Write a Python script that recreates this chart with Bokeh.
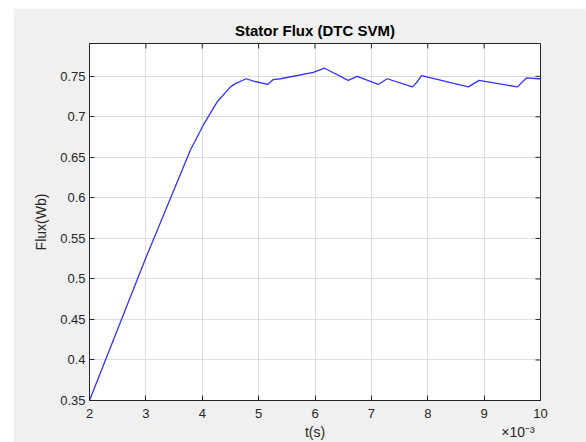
import math
from bokeh.plotting import figure
from bokeh.layouts import column, row
from bokeh.models import Range1d, FixedTicker, LinearAxis, Spacer
from bokeh.embed import file_html
from bokeh.resources import INLINE

# data (t in units of 1e-3 s)
t_ms = [2.0, 3.0, 3.79, 4.02, 4.27, 4.50, 4.59, 4.78, 4.91, 5.16, 5.26, 5.39,
        5.97, 6.17, 6.59, 6.75, 7.12, 7.28, 7.73, 7.80, 7.89, 8.72, 8.91,
        9.59, 9.75, 9.96, 10.0]
flux = [0.350, 0.526, 0.659, 0.690, 0.719, 0.737, 0.741, 0.747, 0.744, 0.740,
        0.746, 0.747, 0.755, 0.760, 0.745, 0.750, 0.740, 0.747, 0.737, 0.742,
        0.751, 0.737, 0.745, 0.737, 0.748, 0.747, 0.747]
x_ticks = [2, 3, 4, 5, 6, 7, 8, 9, 10]
y_ticks = [0.35, 0.4, 0.45, 0.5, 0.55, 0.6, 0.65, 0.7, 0.75]
x_label = "t(s)"
x_exponent = "\u00d710\u207b\u00b3"

FONT = "Liberation Sans"
DARK = "#262626"
BG = "#f0f0f0"
X0, X1 = 2, 10
Y0, Y1 = 0.35, 0.7905

p = figure(width=573, height=434, output_backend="svg", toolbar_location=None,
           x_range=Range1d(X0, X1), y_range=Range1d(Y0, Y1),
           min_border_left=76, min_border_right=46, min_border_top=35,
           min_border_bottom=42)
p.background_fill_color = "white"
p.border_fill_color = BG
p.outline_line_color = DARK
p.outline_line_width = 1

p.title.text = "Stator Flux (DTC SVM)"
p.title.text_font = FONT
p.title.text_font_size = "15px"
p.title.text_font_style = "bold"
p.title.text_color = "black"
p.title.align = "center"

p.xgrid.ticker = FixedTicker(ticks=x_ticks)
p.ygrid.ticker = FixedTicker(ticks=y_ticks)
p.grid.grid_line_color = "#dedede"
p.grid.grid_line_width = 1

p.line(t_ms, flux, line_color="#0000ff", line_width=1.3, line_alpha=0.8)

for ax in (p.xaxis[0], p.yaxis[0]):
    ax.major_tick_in = 5
    ax.major_tick_out = 0
    ax.minor_tick_in = 0
    ax.minor_tick_out = 0
    ax.axis_line_color = DARK
    ax.major_tick_line_color = DARK
    ax.major_label_text_font = FONT
    ax.major_label_text_font_size = "13px"
    ax.major_label_text_color = DARK
    ax.axis_label_text_font = FONT
    ax.axis_label_text_font_size = "14px"
    ax.axis_label_text_font_style = "normal"
    ax.axis_label_text_color = DARK

p.xaxis[0].ticker = FixedTicker(ticks=x_ticks)
p.yaxis[0].ticker = FixedTicker(ticks=y_ticks)
p.yaxis[0].axis_label = "Flux(Wb)"
p.xaxis[0].major_label_standoff = 8
p.yaxis[0].major_label_standoff = 4
p.yaxis[0].axis_label_standoff = 8

# second row below the x axis: axis label and the exponent
lab_ticks = [(X0 + X1) / 2, 9.6]
lab_axis = LinearAxis(ticker=FixedTicker(ticks=lab_ticks),
                      major_label_overrides={lab_ticks[0]: x_label,
                                             lab_ticks[1]: x_exponent})
lab_axis.axis_line_color = None
lab_axis.major_tick_line_color = None
lab_axis.minor_tick_line_color = None
lab_axis.major_tick_in = 0
lab_axis.major_tick_out = 0
lab_axis.minor_tick_in = 0
lab_axis.minor_tick_out = 0
lab_axis.major_label_standoff = 3
lab_axis.major_label_text_font = FONT
lab_axis.major_label_text_font_size = "14px"
lab_axis.major_label_text_color = DARK
p.add_layout(lab_axis, "below")

# inward tick marks on the top and right edges (half of each dash is clipped)
p.scatter(x_ticks, [Y1] * len(x_ticks), marker="dash", size=10,
          angle=math.pi / 2, line_color=DARK, line_width=1)
p.scatter([X1] * len(y_ticks), y_ticks, marker="dash", size=10,
          line_color=DARK, line_width=1)

layout = column(Spacer(width=586, height=8),
                row(Spacer(width=13, height=434), p))

open("out.html", "w").write(file_html(layout, INLINE))
